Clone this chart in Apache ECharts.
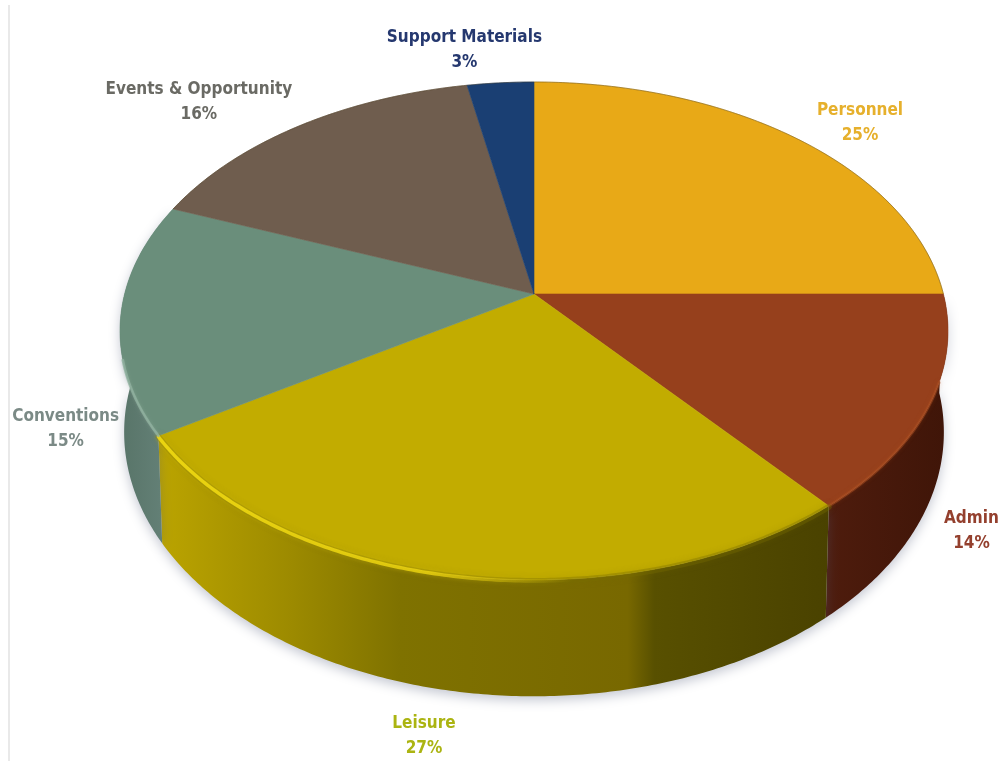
<!DOCTYPE html>
<html>
<head>
<meta charset="utf-8">
<style>html,body{margin:0;padding:0;background:#fff}#chart{width:1005px;height:761px}</style>
<script src="https://cdn.jsdelivr.net/npm/echarts@6/dist/echarts.min.js"></script>
</head>
<body>
<div id="chart"></div>
<script>
// Budget shares, clockwise from twelve o'clock
const categories = ['Personnel', 'Admin', 'Leisure', 'Conventions', 'Events & Opportunity', 'Support Materials'];
const shares = [25, 14, 27, 15, 16, 3];

// Projection of the tilted disc
const CX = 534, CY = 294, RX = 409.4, RY = 243.5, PERSP = 0.1486, DEPTH = 99, BASE_SHRINK = 0.99;

const TOP_FILL = ['#e8a917', '#96401c', '#c2ac00', '#6a8e7b', '#6f5d4e', '#1a3f73'];
const LABEL_INK = ['#e6b02c', '#94402e', '#abb412', '#7b8a86', '#6a6a64', '#25386f'];
const WALL_STOPS = [
  null,
  [[0, '#4e1c0d'], [1, '#3f1508']],
  [[0, '#bba400'], [0.2, '#9c8a00'], [0.36, '#7f7200'], [0.7, '#786800'], [0.74, '#585000'], [1, '#4a4200']],
  [[0, '#587468'], [1, '#67847b']],
  null,
  null
];
const LABEL_NUDGE = [[64, -15], [42, 126], [-35, 160], [-55, 112], [-101, -24], [-36, -33]];

const total = shares.reduce((a, b) => a + b, 0);
const startShare = shares.map((_, i) => shares.slice(0, i).reduce((a, b) => a + b, 0));
const toAngle = s => s / total * Math.PI * 2;

function rim(theta) {
  const u = Math.sin(theta), v = Math.cos(theta), w = 1 + PERSP * v;
  return [CX + RX * u / w, CY - RY * v / w];
}
function base(theta) {
  const u = Math.sin(theta), v = Math.cos(theta), w = 1 + PERSP * v;
  return [CX + RX * BASE_SHRINK * u / w, CY - RY * v / w + DEPTH / w];
}
function arc(fn, a, b) {
  const n = Math.max(2, Math.ceil(Math.abs(b - a) / 0.01));
  const pts = [];
  for (let i = 0; i <= n; i++) pts.push(fn(a + (b - a) * i / n));
  return pts;
}
function globalGradient(x, x2, stops) {
  return {
    type: 'linear', x: x, y: 0, x2: x2, y2: 0, global: true,
    colorStops: stops.map(s => ({ offset: s[0], color: s[1] }))
  };
}
const sliceOf = i => [toAngle(startShare[i]), toAngle(startShare[i] + shares[i])];

// Outer wall of each slice; the rear part is covered later by the top faces
function renderWall(params) {
  const i = params.dataIndex;
  if (!WALL_STOPS[i]) return { type: 'group', children: [] };
  const [a, b] = sliceOf(i);
  const upper = arc(rim, a, b), lower = arc(base, a, b).reverse();
  const xs = upper.concat(lower).map(p => p[0]);
  return {
    type: 'polygon',
    shape: { points: upper.concat(lower) },
    style: {
      fill: globalGradient(Math.min(...xs), Math.max(...xs), WALL_STOPS[i]),
      shadowBlur: 12, shadowColor: 'rgba(80,90,120,0.34)', shadowOffsetY: 4
    }
  };
}

// Top face of each slice plus its fine rear edge
function renderTop(params, api) {
  const i = params.dataIndex;
  const s = startShare[i], v = api.value(0);
  const a = toAngle(s), b = toAngle(s + v);
  const edge = arc(rim, a, b);
  const children = [{
    type: 'polygon',
    shape: { points: [[CX, CY]].concat(edge) },
    style: { fill: TOP_FILL[i], stroke: TOP_FILL[i], lineWidth: 0.6 }
  }];
  if (Math.cos((a + b) / 2) > 0.2 || i === 0) {
    children.push({
      type: 'polyline', shape: { points: edge },
      style: { fill: null, stroke: 'rgba(70,55,25,0.4)', lineWidth: 1 }
    });
  }
  return { type: 'group', children: children };
}

// Soft bevels along the front rim
function softLine(pts, stroke, width, blur, glow) {
  return {
    type: 'polyline', shape: { points: pts },
    style: { fill: null, stroke: stroke, lineWidth: width, lineCap: 'round', shadowBlur: blur, shadowColor: glow }
  };
}
function renderBevel(params) {
  const i = params.dataIndex;
  const [a, b] = sliceOf(i);
  if (categories[i] === 'Leisure') {
    const whole = arc(rim, a, b).map(p => [p[0], p[1] + 1]);
    const lit = arc(rim, b, toAngle(startShare[i] + shares[i] * 0.36)).map(p => [p[0], p[1] + 1]);
    const x0 = lit[0][0], x1 = lit[lit.length - 1][0];
    return {
      type: 'group',
      children: [
        softLine(whole, 'rgba(120,108,0,0.35)', 6, 6, 'rgba(120,108,0,0.5)'),
        softLine(lit, globalGradient(x0, x1, [
          [0, 'rgba(234,212,16,1)'], [0.65, 'rgba(232,208,16,0.85)'], [1, 'rgba(226,200,16,0)']
        ]), 3.4, 4, 'rgba(232,208,16,0.55)')
      ]
    };
  }
  if (categories[i] === 'Conventions') {
    return softLine(arc(rim, toAngle(startShare[i] + shares[i] * 0.32), a), 'rgba(145,178,160,0.8)', 2.6, 3, 'rgba(150,178,160,0.5)');
  }
  if (categories[i] === 'Admin') {
    return softLine(arc(rim, toAngle(startShare[i] + shares[i] * 0.4), b), 'rgba(172,78,32,0.55)', 3, 4, 'rgba(176,80,32,0.4)');
  }
  return { type: 'group', children: [] };
}

function renderLabel(params, api) {
  const i = params.dataIndex;
  const mid = toAngle(startShare[i] + api.value(0) / 2);
  const p = rim(mid);
  return {
    type: 'text',
    x: p[0] + LABEL_NUDGE[i][0],
    y: p[1] + LABEL_NUDGE[i][1],
    style: {
      text: categories[i] + '\n' + api.value(0) + '%',
      fill: LABEL_INK[i],
      font: 'bold 17px "DejaVu Sans Condensed", "DejaVu Sans", sans-serif',
      lineHeight: 25,
      align: 'center',
      verticalAlign: 'middle'
    }
  };
}

const seriesData = shares.map(v => [v]);
const layer = (renderItem, z) => ({
  type: 'custom', coordinateSystem: 'none', silent: true, animation: false,
  clip: false, z: z, data: seriesData, renderItem: renderItem
});

const chart = echarts.init(document.getElementById('chart'), null, { renderer: 'canvas' });
chart.setOption({
  backgroundColor: '#ffffff',
  animation: false,
  graphic: [{
    type: 'rect', silent: true, z: 0,
    shape: { x: 8, y: 5, width: 2, height: 756 },
    style: { fill: '#e9e9e9' }
  }],
  series: [layer(renderWall, 1), layer(renderTop, 2), layer(renderBevel, 3), layer(renderLabel, 4)]
});
</script>
</body>
</html>
